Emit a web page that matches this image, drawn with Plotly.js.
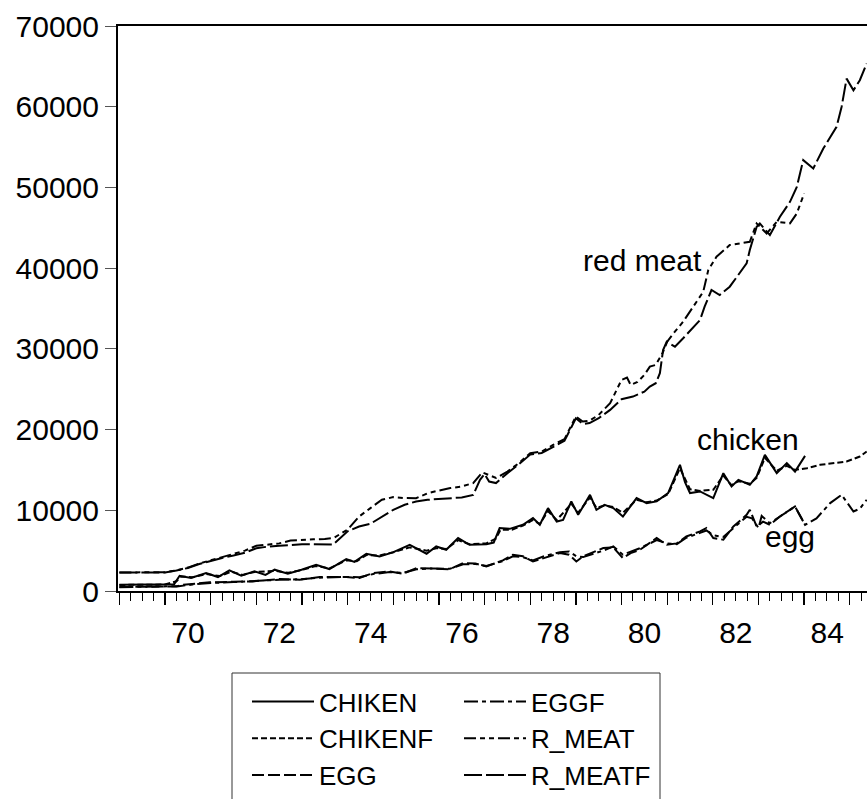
<!DOCTYPE html>
<html>
<head>
<meta charset="utf-8">
<script src="https://cdn.plot.ly/plotly-3.0.1.min.js"></script>
<style>html,body{margin:0;padding:0;background:#fff;}#chart{width:867px;height:799px;}</style>
</head>
<body>
<div id="chart"></div>
<script>
// ---- data (decimal years, values) ----
const rMeatX = [1969.0,1969.5,1970.0,1970.25,1970.5,1970.75,1971.0,1971.25,1971.5,1971.75,1972.0,1972.25,1972.5,1972.75,1973.0,1973.25,1973.5,1973.7,1974.0,1974.25,1974.5,1974.75,1975.0,1975.25,1975.5,1975.75,1976.0,1976.25,1976.5,1976.75,1976.95,1977.1,1977.25,1977.5,1977.75,1978.0,1978.25,1978.5,1978.75,1979.0,1979.15,1979.3,1979.5,1979.75,1980.0,1980.12,1980.2,1980.35,1980.5,1980.62,1980.75,1980.9,1981.0,1981.15,1981.35,1981.57,1981.79,1981.9,1982.08,1982.37,1982.6,1982.81,1982.96,1983.18,1983.4,1983.69,1983.84,1984.0];
const rMeat  = [2300,2300,2320,2550,2900,3400,3800,4250,4650,5000,5600,5750,5900,6250,6350,6400,6450,6600,7600,9230,10270,11300,11630,11510,11500,12100,12450,12750,12950,13370,14700,14300,14000,14800,15840,17080,17280,18100,18810,21610,20990,21100,21820,23270,26150,26440,25530,25900,26770,27800,28010,29500,30890,32000,33370,35220,37080,39760,41410,42860,43100,43270,45540,44300,45740,45540,46780,49260];

const rMeatFX = [1969.0,1969.5,1970.0,1970.25,1970.5,1970.75,1971.0,1971.25,1971.5,1971.75,1972.0,1972.25,1972.5,1972.75,1973.0,1973.25,1973.5,1973.68,1974.0,1974.25,1974.5,1974.75,1975.0,1975.25,1975.5,1975.75,1976.0,1976.25,1976.5,1976.75,1976.9,1977.0,1977.1,1977.25,1977.5,1977.75,1978.0,1978.25,1978.5,1978.75,1979.0,1979.15,1979.3,1979.5,1979.75,1980.0,1980.25,1980.5,1980.62,1980.75,1980.84,1980.91,1980.99,1981.17,1981.35,1981.72,1981.82,1981.97,1982.15,1982.37,1982.74,1982.81,1982.96,1983.03,1983.25,1983.47,1983.69,1983.84,1983.98,1984.2,1984.42,1984.71,1984.82,1984.93,1985.08,1985.22,1985.37];
const rMeatF  = [2300,2300,2300,2550,2850,3350,3750,4100,4400,4750,5300,5500,5600,5700,5800,5800,5750,5750,7400,7990,8330,9230,10060,10680,11090,11300,11390,11510,11590,11900,13770,14500,13560,13370,14600,15700,16900,17100,17900,18600,21400,20700,20800,21410,22440,23760,24090,24700,25320,25740,26980,29860,30890,30270,31310,33580,35220,37290,36670,37700,40590,42240,45120,45540,44100,46360,48220,50070,53380,52350,54820,57500,59970,63480,62040,63280,65340];

const chikenX = [1969.0,1969.5,1970.0,1970.2,1970.32,1970.57,1970.9,1971.16,1971.41,1971.67,1971.96,1972.2,1972.4,1972.69,1972.99,1973.31,1973.6,1973.97,1974.15,1974.41,1974.7,1974.99,1975.36,1975.73,1975.94,1976.16,1976.42,1976.67,1977.04,1977.2,1977.33,1977.55,1977.84,1978.06,1978.21,1978.39,1978.58,1978.72,1978.9,1979.05,1979.31,1979.45,1979.63,1979.82,1980.03,1980.33,1980.55,1980.77,1981.02,1981.28,1981.39,1981.5,1981.72,1982.01,1982.23,1982.41,1982.56,1982.81,1982.96,1983.14,1983.4,1983.62,1983.8,1984.02];
const chiken  = [780,780,800,850,1890,1610,2230,1730,2550,1900,2430,2000,2640,2150,2640,3250,2720,3960,3600,4620,4280,4780,5730,4620,5520,5110,6560,5730,5800,6000,7800,7700,8200,9030,8200,10270,8610,8800,11090,9440,11920,10060,10680,10270,9230,11510,10890,11100,12130,15630,13500,12130,12330,11510,14600,12950,13770,13160,14200,16870,14600,15840,14800,16740];

const chikenFX = [1969.0,1970.0,1970.25,1970.35,1970.6,1970.9,1971.2,1971.45,1971.7,1971.96,1972.4,1972.7,1973.0,1973.3,1973.6,1973.97,1974.2,1974.41,1974.7,1975.0,1975.36,1975.73,1975.94,1976.16,1976.42,1976.67,1977.04,1977.25,1977.35,1977.6,1977.84,1978.06,1978.21,1978.39,1978.58,1978.9,1979.05,1979.31,1979.45,1979.63,1979.82,1980.03,1980.33,1980.55,1980.77,1981.02,1981.28,1981.39,1981.5,1981.72,1982.01,1982.23,1982.41,1982.56,1982.81,1982.96,1983.14,1983.4,1983.62,1983.8,1984.06,1984.35,1984.64,1984.93,1985.22,1985.37];
const chikenF  = [750,800,1200,1800,1700,2100,1850,2400,2000,2350,2500,2250,2600,3100,2800,3800,3700,4450,4400,4800,5400,5000,5300,5200,6300,5800,5900,6500,7600,7600,8100,8800,8300,9900,8800,10800,9700,11600,10300,10600,10400,9700,11300,11000,11200,12000,15200,13900,12600,12400,12540,14300,13100,13600,13300,14000,16500,14900,15500,15000,15220,15630,15840,16040,16660,17280];

const eggX = [1969.0,1970.0,1970.25,1970.39,1970.98,1971.5,1971.92,1972.51,1972.95,1973.39,1973.97,1974.26,1974.56,1974.92,1975.21,1975.51,1975.9,1976.24,1976.53,1976.8,1977.04,1977.4,1977.62,1977.84,1978.06,1978.3,1978.65,1978.85,1979.01,1979.16,1979.6,1979.82,1980.03,1980.2,1980.4,1980.77,1980.99,1981.21,1981.42,1981.72,1981.86,1982.01,1982.23,1982.45,1982.74,1982.81,1982.96,1983.1,1983.25,1983.47,1983.8,1984.02];
const egg  = [500,520,560,780,1070,1150,1190,1490,1400,1730,1730,1610,2230,2430,2140,2850,2750,2700,3470,3400,3040,3800,4490,4300,3660,4100,4700,4500,3660,4300,5320,5400,4080,4700,5100,6560,5730,5900,6760,7380,7800,6560,6350,7990,9440,10060,7990,8600,8200,9230,10470,8200];

const eggFX = [1969.0,1970.0,1970.3,1970.6,1971.0,1971.5,1971.92,1972.51,1972.95,1973.39,1973.97,1974.26,1974.56,1974.92,1975.21,1975.51,1975.9,1976.24,1976.53,1976.8,1977.04,1977.4,1977.62,1977.84,1978.06,1978.3,1978.65,1978.85,1979.01,1979.16,1979.6,1979.82,1980.03,1980.2,1980.4,1980.77,1980.99,1981.21,1981.42,1981.72,1981.86,1982.01,1982.23,1982.45,1982.74,1982.86,1983.0,1983.07,1983.25,1983.47,1983.8,1984.02,1984.27,1984.57,1984.82,1985.08,1985.22,1985.37];
const eggF  = [480,500,600,800,1000,1100,1250,1400,1450,1650,1750,1700,2100,2350,2250,2700,2800,2750,3300,3350,3100,3700,4300,4200,3800,4300,4800,4900,4300,4200,5000,5520,4500,4900,5300,6300,5900,5800,6600,7200,7500,6900,6700,7800,9200,9000,7800,9300,8400,9230,10470,8200,9000,10890,11920,9850,10200,11300];

const yTicks = [0,10000,20000,30000,40000,50000,60000,70000];
const yTickText = ['0','10000','20000','30000','40000','50000','60000','70000'];
const yearTicks = [1969,1970,1971,1972,1973,1974,1975,1976,1977,1978,1979,1980,1981,1982,1983,1984,1985];
const yearText  = ['','70','','72','','74','','76','','78','','80','','82','','84',''];

const seriesNames = ['CHIKEN','CHIKENF','EGG','EGGF','R_MEAT','R_MEATF'];
const labelText = ['red meat','chicken','egg'];
const labelX = [1980.45, 1982.77, 1983.69];
const labelY = [41000, 18800, 6700];

// ---- styling ----
const W = 867, H = 799;
const M = {l:118, r:0, t:26, b:208};
const pw = W - M.l - M.r, ph = H - M.t - M.b;
const px2x = p => (p - M.l) / pw;
const py2y = p => (H - M.b - p) / ph;
const font = 'Liberation Sans, Arial, sans-serif';

function tr(name, x, y, dash, legend) {
  return {type:'scatter', mode:'lines', name:name, x:x, y:y, legend:legend,
          line:{color:'#000', width:2, dash:dash}, hoverinfo:'skip'};
}

const data = [
  tr(seriesNames[0], chikenX, chiken, 'solid', 'legend'),
  tr(seriesNames[1], chikenFX, chikenF, '6px,3px', 'legend'),
  tr(seriesNames[2], eggX, egg, '12px,4px', 'legend'),
  tr(seriesNames[3], eggFX, eggF, '14px,4px,4px,4px', 'legend2'),
  tr(seriesNames[4], rMeatX, rMeat, '12px,4px,5px,4px,5px,4px', 'legend2'),
  tr(seriesNames[5], rMeatFX, rMeatF, '18px,4px', 'legend2')
];

const legendCommon = {
  orientation:'v', bgcolor:'rgba(0,0,0,0)', borderwidth:0,
  font:{family:font, size:26, color:'#000'},
  xanchor:'left', yanchor:'top', itemwidth:62, tracegroupgap:0
};

const layout = {
  width:W, height:H, margin:M, paper_bgcolor:'#fff', plot_bgcolor:'#fff',
  showlegend:true,
  font:{family:font, color:'#000'},
  xaxis:{
    range:[1968.97, 1985.377], showgrid:false, zeroline:false,
    showline:true, linecolor:'#000', linewidth:2, mirror:true,
    tickmode:'array', tickvals:yearTicks, ticktext:yearText,
    ticks:'outside', ticklen:12, tickwidth:1.3, tickcolor:'#000',
    ticklabelshift:23, ticklabelstandoff:2,
    tickfont:{family:font, size:30, color:'#000'},
    minor:{tick0:1969, dtick:0.25, ticks:'outside', ticklen:8, tickwidth:1, tickcolor:'#000'}
  },
  yaxis:{
    range:[0,70000], showgrid:false, zeroline:false,
    showline:true, linecolor:'#000', linewidth:2,
    tickmode:'array', tickvals:yTicks, ticktext:yTickText,
    ticks:'outside', ticklen:11, tickwidth:1, tickcolor:'#555',
    tickfont:{family:font, size:30, color:'#000'}
  },
  legend: Object.assign({}, legendCommon, {x:px2x(247), y:py2y(678)}),
  legend2: Object.assign({}, legendCommon, {x:px2x(459), y:py2y(678)}),
  shapes:[{type:'rect', xref:'paper', yref:'paper', x0:px2x(232), x1:px2x(660), y0:py2y(673), y1:py2y(830),
           line:{color:'#333', width:1}, fillcolor:'rgba(0,0,0,0)'}],
  annotations: labelText.map((t,i)=>({text:t, x:labelX[i], y:labelY[i], xref:'x', yref:'y',
           showarrow:false, font:{family:font, size:30, color:'#000'}}))
};

Plotly.newPlot('chart', data, layout, {staticPlot:true, displayModeBar:false});
</script>
</body>
</html>
